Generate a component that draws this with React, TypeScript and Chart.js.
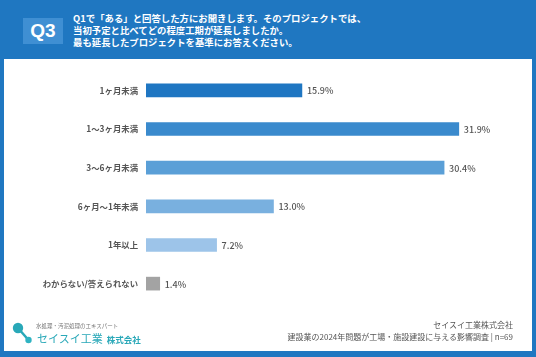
import React, { useEffect, useRef } from "react";
import { Chart, registerables } from "chart.js";

Chart.register(...registerables);

const categories = [
  "1ヶ月未満",
  "1〜3ヶ月未満",
  "3〜6ヶ月未満",
  "6ヶ月〜1年未満",
  "1年以上",
  "わからない/答えられない",
];
const values = [15.9, 31.9, 30.4, 13.0, 7.2, 1.4];
const barColors = ["#1f76c2", "#3a8acd", "#5a9fd7", "#79b0df", "#9dc4e9", "#a3a3a3"];
const headerLines = [
  "Q1で「ある」と回答した方にお聞きします。そのプロジェクトでは、",
  "当初予定と比べてどの程度工期が延長しましたか。",
  "最も延長したプロジェクトを基準にお答えください。",
];
const footerRight = [
  "セイスイ工業株式会社",
  "建設業の2024年問題が工場・施設建設に与える影響調査 | n=69",
];

const JP = '"Noto Sans CJK JP", "Noto Sans", sans-serif';

export default function App() {
  const ref = useRef<HTMLCanvasElement | null>(null);

  useEffect(() => {
    if (!ref.current) return;
    const valueLabels = {
      id: "valueLabels",
      afterDatasetsDraw(chart: any) {
        const ctx = chart.ctx;
        const meta = chart.getDatasetMeta(0);
        ctx.save();
        ctx.font = `500 9px ${JP}`;
        ctx.fillStyle = "#555555";
        ctx.textAlign = "left";
        ctx.textBaseline = "middle";
        meta.data.forEach((bar: any, i: number) => {
          ctx.fillText(values[i].toFixed(1) + "%", bar.x + 5, bar.y + 0.5);
        });
        ctx.restore();
      },
    };
    const chart = new Chart(ref.current, {
      type: "bar",
      data: {
        labels: categories,
        datasets: [
          {
            data: values,
            backgroundColor: barColors,
            borderWidth: 0,
            barThickness: 13,
          },
        ],
      },
      options: {
        indexAxis: "y",
        animation: false,
        responsive: true,
        maintainAspectRatio: false,
        layout: { padding: { left: 0, right: 33, top: 0, bottom: 0 } },
        plugins: { legend: { display: false }, tooltip: { enabled: false } },
        scales: {
          x: { display: false, min: 0, max: 36 },
          y: {
            grid: { display: false, drawTicks: false },
            border: { display: false },
            ticks: {
              color: "#555555",
              padding: 8,
              font: { family: JP, size: 8.4, weight: "bold" },
            },
            afterFit: (s: any) => {
              s.width = 142;
            },
          },
        },
      },
      plugins: [valueLabels],
    } as any);
    return () => chart.destroy();
  }, []);

  return (
    <div
      style={{
        position: "fixed",
        left: 0,
        top: 0,
        width: 536,
        height: 357,
        background: "#1f77c1",
        overflow: "hidden",
        fontFamily: JP,
      }}
    >
      <div
        style={{
          position: "absolute",
          left: 23,
          top: 18,
          width: 40,
          height: 26,
          background: "#3f8fd3",
          color: "#fff",
          fontFamily: '"Liberation Sans", Arial, sans-serif',
          fontWeight: "bold",
          fontSize: 19,
          lineHeight: "26px",
          textAlign: "center",
        }}
      >
        Q3
      </div>
      <div
        style={{
          position: "absolute",
          left: 73,
          top: 12,
          color: "#fff",
          fontWeight: "bold",
          fontSize: 9.4,
          lineHeight: "12px",
          whiteSpace: "nowrap",
        }}
      >
        {headerLines.map((l, i) => (
          <div key={i}>{l}</div>
        ))}
      </div>
      <div
        style={{
          position: "absolute",
          left: 4,
          top: 59,
          width: 528,
          height: 292,
          background: "#ffffff",
        }}
      />
      <div style={{ position: "absolute", left: 4, top: 58, width: 528, height: 258 }}>
        <canvas ref={ref} />
      </div>
      <svg
        style={{ position: "absolute", left: 0, top: 0 }}
        width={536}
        height={357}
      >
        <line x1={18} y1={328} x2={28.5} y2={340} stroke="#29a8b8" strokeWidth={2.5} />
        <circle cx={18} cy={328} r={5.2} fill="#29a8b8" />
        <circle cx={28.5} cy={340} r={3.2} fill="#2fb3c2" />
      </svg>
      <div
        style={{
          position: "absolute",
          left: 36,
          top: 322,
          fontSize: 5.5,
          lineHeight: "8px",
          color: "#777",
          whiteSpace: "nowrap",
        }}
      >
        水処理・汚泥処理のエキスパート
      </div>
      <div
        style={{
          position: "absolute",
          left: 37,
          top: 330,
          fontSize: 11,
          lineHeight: "16px",
          color: "#29a8b8",
          whiteSpace: "nowrap",
        }}
      >
        セイスイ工業
        <span style={{ fontSize: 8.5, fontWeight: "bold", marginLeft: 4 }}>株式会社</span>
      </div>
      <div
        style={{
          position: "absolute",
          right: 23,
          top: 319,
          textAlign: "right",
          fontSize: 8,
          lineHeight: "11.5px",
          color: "#555",
          whiteSpace: "nowrap",
        }}
      >
        {footerRight.map((l, i) => (
          <div key={i}>{l}</div>
        ))}
      </div>
    </div>
  );
}
